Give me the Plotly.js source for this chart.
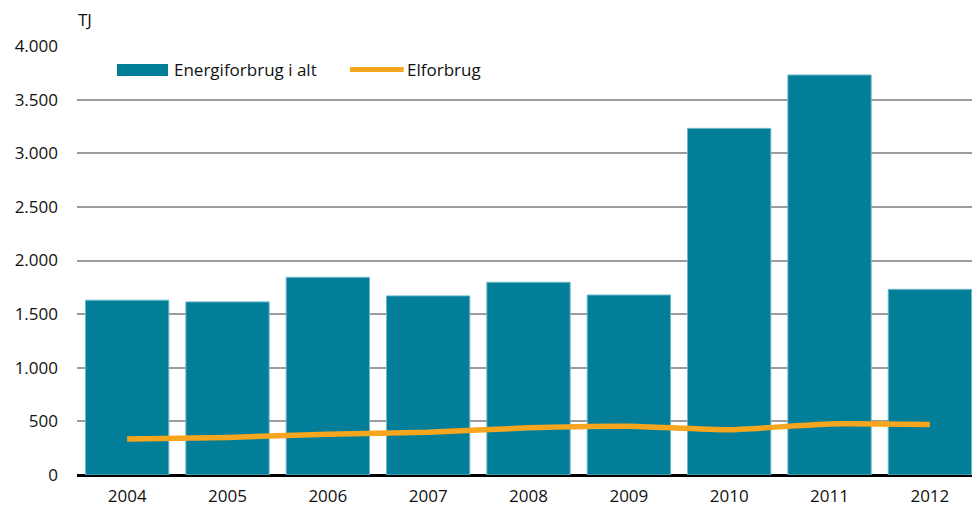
<!DOCTYPE html>
<html>
<head>
<meta charset="utf-8">
<script src="https://cdn.plot.ly/plotly-3.0.1.min.js"></script>
<style>
  body { margin: 0; background: #fff; }
  #chart { width: 972px; height: 510px; }
</style>
</head>
<body>
<div id="chart"></div>
<script>
var years = ["2004", "2005", "2006", "2007", "2008", "2009", "2010", "2011", "2012"];
var energiforbrug = [1630, 1614, 1843, 1670, 1797, 1678, 3232, 3730, 1731];
var elforbrug = [335, 350, 380, 398, 440, 454, 422, 476, 470];
var yTicks = [0, 500, 1000, 1500, 2000, 2500, 3000, 3500, 4000];

var teal = "#027e98";
var orange = "#f6a51e";
var fontFam = "Liberation Sans Narrow, Open Sans, sans-serif";

var bars = {
    x: years,
    y: energiforbrug,
    type: "bar",
    name: "Energiforbrug i alt",
    marker: { color: teal, line: { color: "#6cb8c9", width: 1 } },
    showlegend: false,
    hoverinfo: "x+y"
};

var line = {
    x: years,
    y: elforbrug,
    type: "scatter",
    mode: "lines",
    name: "Elforbrug",
    line: { color: orange, width: 5.5, shape: "spline", smoothing: 0.5 },
    showlegend: false,
    hoverinfo: "x+y"
};

var layout = {
    width: 972,
    height: 510,
    margin: { l: 77, r: 0, t: 46, b: 35 },
    paper_bgcolor: "#fff",
    plot_bgcolor: "#fff",
    separators: ",.",
    font: { family: fontFam, size: 17, color: "#111" },
    bargap: 0.17,
    xaxis: {
        type: "category",
        range: [-0.5, 8.42],
        showgrid: false,
        ticks: "",
        ticklabelstandoff: 9,
        tickfont: { size: 17 },
        fixedrange: true
    },
    yaxis: {
        range: [0, 4000],
        tickvals: yTicks,
        tickformat: ",d",
        showgrid: true,
        gridcolor: "#9c9c9c",
        gridwidth: 2,
        zeroline: true,
        zerolinecolor: "#000",
        zerolinewidth: 3,
        ticks: "",
        ticklabelstandoff: 18,
        tickfont: { size: 17 },
        fixedrange: true
    },
    shapes: [
        { type: "rect", xref: "paper", yref: "paper", x0: 0.0447, x1: 0.1017, y0: 0.930, y1: 0.958,
          fillcolor: teal, line: { width: 0 } },
        { type: "line", xref: "paper", yref: "paper", x0: 0.305, x1: 0.365, y0: 0.945, y1: 0.945,
          line: { color: orange, width: 5 } }
    ],
    annotations: [
        { text: "TJ", xref: "paper", yref: "paper", x: -0.001, y: 1.062, xanchor: "left", yanchor: "middle",
          showarrow: false, font: { size: 17 } },
        { text: "Energiforbrug i alt", xref: "paper", yref: "paper", x: 0.106, y: 0.945, xanchor: "left", yanchor: "middle",
          showarrow: false, font: { size: 17 } },
        { text: "Elforbrug", xref: "paper", yref: "paper", x: 0.367, y: 0.945, xanchor: "left", yanchor: "middle",
          showarrow: false, font: { size: 17 } }
    ]
};

Plotly.newPlot("chart", [bars, line], layout, { displayModeBar: false, staticPlot: true });
</script>
</body>
</html>
